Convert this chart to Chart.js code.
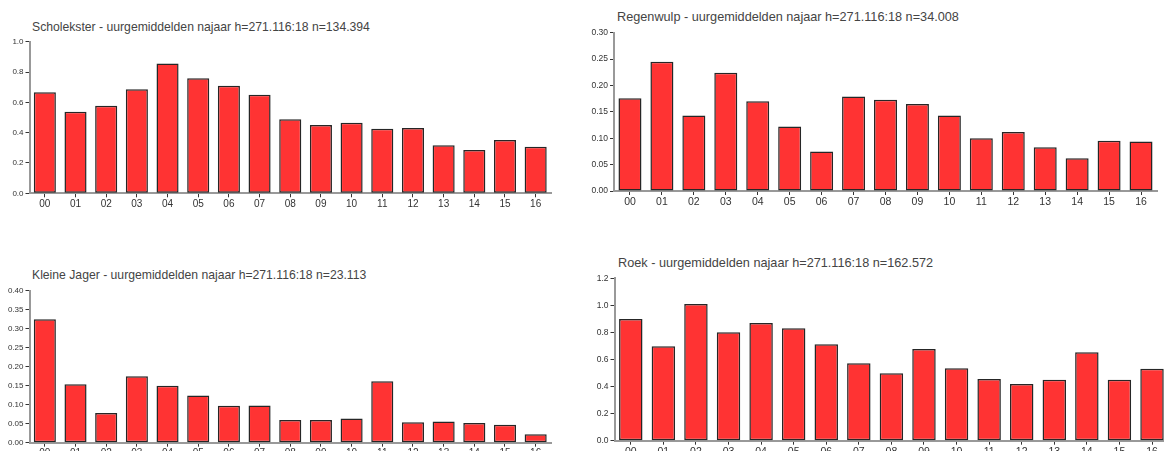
<!DOCTYPE html>
<html>
<head>
<meta charset="utf-8">
<script src="https://cdn.jsdelivr.net/npm/chart.js@4/dist/chart.umd.min.js"></script>
<style>
  html, body { margin: 0; padding: 0; background: #fff; overflow: hidden; width: 1164px; height: 451px; }
  .box { position: absolute; }
  .title { position: absolute; font-family: "Liberation Sans", Arial, sans-serif; font-size: 12.2px; line-height: 14px; color: #444; white-space: nowrap; }
  .right { font-size: 12.7px; }
</style>
</head>
<body>
<div class="title" style="left:32px; top:20px;">Scholekster - uurgemiddelden najaar h=271.116:18 n=134.394</div>
<div class="title right" style="left:617px; top:10px;">Regenwulp - uurgemiddelden najaar h=271.116:18 n=34.008</div>
<div class="title" style="left:32px; top:268px;">Kleine Jager - uurgemiddelden najaar h=271.116:18 n=23.113</div>
<div class="title right" style="left:618px; top:256px;">Roek - uurgemiddelden najaar h=271.116:18 n=162.572</div>

<div class="box" style="left:0px; top:0px; width:560px; height:230px;"><canvas id="c1"></canvas></div>
<div class="box" style="left:580px; top:0px; width:584px; height:230px;"><canvas id="c2"></canvas></div>
<div class="box" style="left:0px; top:240px; width:560px; height:240px;"><canvas id="c3"></canvas></div>
<div class="box" style="left:580px; top:240px; width:600px; height:240px;"><canvas id="c4"></canvas></div>

<script>
// hours of the day (x categories)
const hours = ['00','01','02','03','04','05','06','07','08','09','10','11','12','13','14','15','16'];

// hourly averages per species
const scholekster = [0.666, 0.538, 0.578, 0.686, 0.857, 0.759, 0.710, 0.650, 0.488, 0.450, 0.466, 0.426, 0.431, 0.317, 0.286, 0.352, 0.307];
const regenwulp   = [0.176, 0.245, 0.143, 0.224, 0.170, 0.122, 0.075, 0.179, 0.173, 0.165, 0.143, 0.100, 0.112, 0.083, 0.062, 0.095, 0.094];
const kleineJager = [0.325, 0.154, 0.078, 0.175, 0.150, 0.124, 0.097, 0.098, 0.060, 0.060, 0.064, 0.162, 0.054, 0.056, 0.052, 0.047, 0.022];
const roek        = [0.899, 0.698, 1.010, 0.801, 0.870, 0.831, 0.712, 0.572, 0.498, 0.678, 0.535, 0.456, 0.419, 0.451, 0.653, 0.451, 0.532];

// y axis ranges: max, step, decimals of the tick labels
const yMax = [1.0, 0.30, 0.40, 1.2];
const yStep = [0.2, 0.05, 0.05, 0.2];
const yDecimals = [1, 2, 2, 1];

const barFill = '#ff3333';
const barEdge = '#262626';
const font = 'Liberation Sans';

function makeChart(id, values, idx, yWidth, pad, big) {
    let ctx = document.getElementById(id).getContext('2d');
    return new Chart(ctx, {
        type: 'bar',
        data: {
            labels: hours,
            datasets: [{
                data: values,
                backgroundColor: barFill,
                borderColor: barEdge,
                borderWidth: 1.5,
                borderSkipped: false,
                barPercentage: 0.72,
                categoryPercentage: 1.0
            }]
        },
        options: {
            responsive: true,
            maintainAspectRatio: false,
            animation: false,
            events: [],
            layout: { padding: pad },
            plugins: { legend: { display: false }, tooltip: { enabled: false }, title: { display: false } },
            scales: {
                x: {
                    grid: { display: true, drawOnChartArea: false, offset: false, tickLength: 4, color: '#333', lineWidth: 1 },
                    border: { display: true, color: '#999', width: 2 },
                    ticks: { color: '#333', font: { family: font, size: big ? 10.5 : 10 }, padding: 1, maxRotation: 0, autoSkip: false },
                    afterFit: s => { s.height = 20; s.paddingLeft = 0; s.paddingRight = 0; }
                },
                y: {
                    min: 0,
                    max: yMax[idx],
                    grid: { display: true, drawOnChartArea: false, tickLength: 4, color: '#333', lineWidth: 1 },
                    border: { display: true, color: '#999', width: 2 },
                    ticks: {
                        stepSize: yStep[idx],
                        color: '#333',
                        font: { family: font, size: big ? 8.5 : 8 },
                        padding: 2,
                        callback: v => Number(v).toFixed(yDecimals[idx])
                    },
                    afterFit: s => { s.width = yWidth; s.paddingTop = 0; s.paddingBottom = 0; }
                }
            }
        }
    });
}

makeChart('c1', scholekster, 0, 29.5, { left: 0, top: 41.7, right: 9, bottom: 16.7 }, false);
makeChart('c2', regenwulp, 1, 34, { left: 0, top: 32.7, right: 7, bottom: 19 }, true);
makeChart('c3', kleineJager, 2, 29.5, { left: 0, top: 50.7, right: 9, bottom: 17.3 }, false);
makeChart('c4', roek, 3, 34.5, { left: 0, top: 38.3, right: 11.7, bottom: 19.3 }, true);
</script>
</body>
</html>
